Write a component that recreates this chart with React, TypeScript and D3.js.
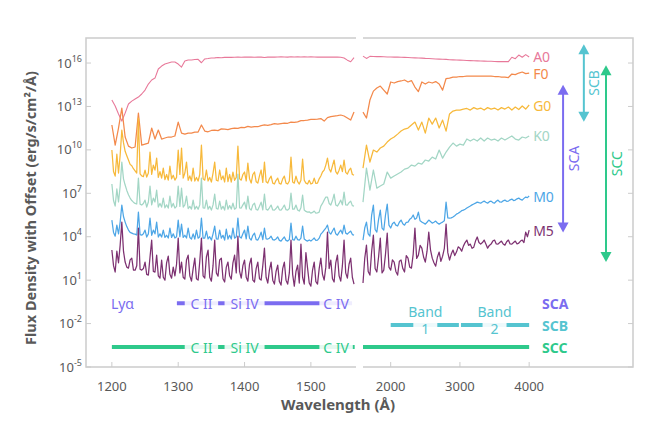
import React from 'react';
import * as d3 from 'd3';

// sampling grids (Å)
const leftWavesCoarse = [1200, 1205, 1210, 1215, 1220, 1225, 1230, 1235, 1240, 1245, 1250, 1255, 1260, 1265, 1270, 1275, 1280, 1285, 1290, 1295, 1300, 1305, 1310, 1315, 1320, 1325, 1330, 1335, 1340, 1345, 1350, 1355, 1360, 1365, 1370, 1375, 1380, 1385, 1390, 1395, 1400, 1405, 1410, 1415, 1420, 1425, 1430, 1435, 1440, 1445, 1450, 1455, 1460, 1465, 1470, 1475, 1480, 1485, 1490, 1495, 1500, 1505, 1510, 1515, 1520, 1525, 1530, 1535, 1540, 1545, 1550, 1555, 1560, 1565];
const leftWavesFine = [
  1200, 1202.5, 1205, 1207.5, 1210, 1212.5, 1215, 1217.5, 1220, 1222.5,
  1225, 1227.5, 1230, 1232.5, 1235, 1237.5, 1240, 1242.5, 1245, 1247.5,
  1250, 1252.5, 1255, 1257.5, 1260, 1262.5, 1265, 1267.5, 1270, 1272.5,
  1275, 1277.5, 1280, 1282.5, 1285, 1287.5, 1290, 1292.5, 1295, 1297.5,
  1300, 1302.5, 1305, 1307.5, 1310, 1312.5, 1315, 1317.5, 1320, 1322.5,
  1325, 1327.5, 1330, 1332.5, 1335, 1337.5, 1340, 1342.5, 1345, 1347.5,
  1350, 1352.5, 1355, 1357.5, 1360, 1362.5, 1365, 1367.5, 1370, 1372.5,
  1375, 1377.5, 1380, 1382.5, 1385, 1387.5, 1390, 1392.5, 1395, 1397.5,
  1400, 1402.5, 1405, 1407.5, 1410, 1412.5, 1415, 1417.5, 1420, 1422.5,
  1425, 1427.5, 1430, 1432.5, 1435, 1437.5, 1440, 1442.5, 1445, 1447.5,
  1450, 1452.5, 1455, 1457.5, 1460, 1462.5, 1465, 1467.5, 1470, 1472.5,
  1475, 1477.5, 1480, 1482.5, 1485, 1487.5, 1490, 1492.5, 1495, 1497.5,
  1500, 1502.5, 1505, 1507.5, 1510, 1512.5, 1515, 1517.5, 1520, 1522.5,
  1525, 1527.5, 1530, 1532.5, 1535, 1537.5, 1540, 1542.5, 1545, 1547.5,
  1550, 1552.5, 1555, 1557.5, 1560, 1562.5, 1565];
const rightWavesCoarse = [1600, 1650, 1700, 1750, 1800, 1850, 1900, 1950, 2000, 2050, 2100, 2150, 2200, 2250, 2300, 2350, 2400, 2450, 2500, 2550, 2600, 2650, 2700, 2750, 2800, 2850, 2900, 2950, 3000, 3050, 3100, 3150, 3200, 3250, 3300, 3350, 3400, 3450, 3500, 3550, 3600, 3650, 3700, 3750, 3800, 3850, 3900, 3950, 4000];
const rightWavesFine = [
  1600, 1625, 1650, 1675, 1700, 1725, 1750, 1775, 1800, 1825,
  1850, 1875, 1900, 1925, 1950, 1975, 2000, 2025, 2050, 2075,
  2100, 2125, 2150, 2175, 2200, 2225, 2250, 2275, 2300, 2325,
  2350, 2375, 2400, 2425, 2450, 2475, 2500, 2525, 2550, 2575,
  2600, 2625, 2650, 2675, 2700, 2725, 2750, 2775, 2800, 2825,
  2850, 2875, 2900, 2925, 2950, 2975, 3000, 3025, 3050, 3075,
  3100, 3125, 3150, 3175, 3200, 3225, 3250, 3275, 3300, 3325,
  3350, 3375, 3400, 3425, 3450, 3475, 3500, 3525, 3550, 3575,
  3600, 3625, 3650, 3675, 3700, 3725, 3750, 3775, 3800, 3825,
  3850, 3875, 3900, 3925, 3950, 3975, 4000];

// log10 flux (with offset)
const a0Left = [13.44, 13.03, 12.48, 11.99, 12.54, 13.17, 13.37, 13.51, 13.65, 13.86, 14.13, 14.55, 14.83, 14.96, 15.59, 15.79, 15.93, 16.0, 16.07, 16.07, 15.93, 15.72, 16.14, 16.21, 16.21, 16.24, 16.26, 16.02, 16.28, 16.31, 16.35, 16.36, 16.38, 16.37, 16.39, 16.4, 16.39, 16.4, 16.41, 16.4, 16.41, 16.42, 16.41, 16.4, 16.42, 16.41, 16.38, 16.41, 16.42, 16.41, 16.42, 16.43, 16.42, 16.41, 16.43, 16.42, 16.43, 16.42, 16.43, 16.42, 16.43, 16.42, 16.41, 16.42, 16.41, 16.42, 16.41, 16.42, 16.41, 16.4, 16.35, 16.2, 16.09, 16.38];
const a0Right = [16.48, 16.32, 16.46, 16.45, 16.44, 16.44, 16.43, 16.42, 16.42, 16.41, 16.41, 16.4, 16.39, 16.38, 16.37, 16.36, 16.35, 16.34, 16.32, 16.31, 16.3, 16.28, 16.27, 16.26, 16.25, 16.23, 16.22, 16.21, 16.2, 16.19, 16.18, 16.17, 16.16, 16.15, 16.14, 16.13, 16.12, 16.12, 16.11, 16.1, 16.1, 16.1, 16.1, 16.4, 16.3, 16.55, 16.4, 16.58, 16.42];

const f0Left = [11.72, 10.33, 11.51, 12.89, 10.89, 10.26, 10.13, 10.2, 12.54, 10.33, 10.4, 10.47, 11.51, 10.75, 11.37, 10.75, 10.82, 10.89, 10.89, 10.96, 11.92, 11.16, 11.09, 11.16, 11.16, 11.23, 11.23, 11.72, 11.3, 11.25, 11.34, 11.37, 11.33, 11.45, 11.44, 11.4, 11.47, 11.51, 11.48, 11.55, 11.54, 11.62, 11.58, 11.61, 11.6, 11.68, 11.72, 11.7, 11.75, 11.82, 11.78, 11.82, 11.85, 11.84, 11.92, 11.9, 11.94, 12.02, 12.03, 12.06, 12.1, 12.11, 12.13, 12.16, 11.99, 12.23, 12.3, 12.34, 12.37, 12.41, 12.34, 12.2, 12.06, 12.61];
const f0Right = [12.61, 12.2, 13.44, 14.06, 14.27, 14.41, 14.13, 13.86, 14.69, 14.62, 14.72, 14.76, 14.83, 14.69, 14.79, 14.34, 14.03, 14.69, 14.55, 14.69, 14.62, 14.72, 14.55, 14.13, 14.93, 14.96, 15.03, 15.03, 15.07, 15.07, 15.1, 15.1, 15.1, 15.1, 15.1, 15.1, 15.1, 15.1, 15.07, 15.07, 15.03, 15.03, 15.0, 15.24, 15.2, 15.31, 15.38, 15.27, 15.31];

const g0Left = [
  9.99, 8.5, 8.19, 9.7, 8.4, 9.64, 11.37, 10.5, 9.9, 9.6,
  9.3, 9.0, 8.9, 8.7, 8.55, 8.4, 12.2, 8.35, 8.2, 8.15,
  8.6, 8.12, 8.4, 9.85, 8.3, 8.95, 8.6, 9.43, 8.1, 8.5,
  8.05, 8.74, 7.95, 8.3, 7.91, 8.88, 8.0, 8.25, 7.91, 8.1,
  9.99, 8.3, 10.13, 8.05, 8.4, 9.16, 7.9, 8.2, 7.85, 8.74,
  7.85, 8.1, 7.85, 8.3, 10.33, 8.0, 7.91, 8.61, 7.85, 8.1,
  7.78, 8.4, 9.16, 7.9, 7.85, 8.61, 7.95, 8.2, 7.78, 8.74,
  7.8, 8.3, 7.78, 8.47, 7.9, 8.1, 10.26, 8.0, 7.91, 8.3,
  8.47, 7.85, 9.09, 8.0, 7.71, 8.3, 8.47, 7.8, 7.71, 8.2,
  8.61, 7.75, 9.16, 7.8, 7.71, 8.0, 8.19, 7.7, 7.64, 7.9,
  8.05, 7.68, 7.64, 8.0, 8.19, 7.7, 7.64, 7.85, 9.5, 7.78,
  7.7, 8.19, 7.8, 7.64, 7.9, 9.37, 7.9, 7.7, 7.64, 7.9,
  7.64, 7.7, 8.05, 7.68, 7.71, 8.0, 8.2, 8.47, 8.6, 8.95,
  9.43, 8.7, 8.47, 8.9, 9.3, 8.5, 8.33, 8.6, 8.95, 8.5,
  9.3, 8.45, 8.33, 8.6, 8.74, 8.3, 8.26];
const g0Right = [8.74, 10.33, 9.16, 9.99, 9.85, 10.13, 10.26, 10.54, 10.75, 10.89, 11.09, 11.3, 11.44, 11.51, 11.72, 11.92, 11.37, 11.92, 11.16, 12.2, 11.78, 12.2, 11.51, 12.06, 11.3, 12.48, 12.68, 12.75, 12.75, 12.82, 12.86, 12.75, 12.92, 12.82, 12.89, 12.75, 12.92, 12.82, 12.89, 12.75, 12.92, 12.82, 12.96, 12.75, 12.96, 12.79, 13.03, 12.82, 13.1];

const k0Left = [
  7.64, 6.5, 6.12, 7.3, 6.4, 7.5, 9.16, 8.0, 7.57, 7.2,
  6.9, 6.67, 6.5, 6.39, 6.3, 6.26, 8.05, 6.25, 6.19, 6.3,
  6.53, 6.05, 6.4, 7.5, 6.2, 6.67, 6.4, 7.22, 6.05, 6.3,
  6.05, 6.67, 6.0, 6.2, 5.98, 6.81, 6.05, 6.3, 5.98, 6.1,
  7.5, 6.1, 7.36, 6.05, 6.2, 6.81, 5.95, 6.1, 5.91, 6.53,
  5.91, 6.1, 5.9, 6.2, 8.05, 6.0, 5.98, 6.53, 5.9, 6.1,
  5.84, 6.2, 6.95, 5.95, 5.91, 6.46, 5.9, 6.1, 5.84, 6.53,
  5.9, 6.15, 5.91, 6.32, 5.9, 6.0, 8.33, 6.0, 5.98, 6.2,
  6.39, 5.9, 6.81, 5.95, 5.84, 6.2, 6.32, 5.88, 5.84, 6.1,
  6.39, 5.86, 6.95, 5.9, 5.84, 6.0, 6.19, 5.85, 5.84, 5.95,
  6.12, 5.86, 5.84, 6.0, 6.19, 5.87, 5.84, 5.95, 7.02, 5.9,
  5.91, 6.19, 5.85, 5.77, 6.0, 6.88, 5.84, 5.75, 5.7, 5.72,
  5.63, 5.68, 5.77, 5.63, 5.65, 5.7, 6.12, 6.3, 6.53, 6.74,
  6.74, 6.3, 6.19, 6.5, 6.95, 6.2, 6.12, 6.3, 6.53, 6.2,
  7.08, 6.2, 6.19, 6.35, 6.46, 6.15, 6.12];
const k0Right = [6.39, 8.74, 7.22, 8.61, 7.36, 7.5, 7.64, 8.47, 8.05, 8.19, 8.33, 8.47, 8.67, 8.74, 8.95, 8.88, 9.09, 9.02, 9.3, 9.23, 9.5, 9.37, 9.99, 9.43, 9.85, 10.19, 10.47, 10.26, 10.4, 10.33, 10.75, 10.61, 10.75, 10.61, 10.82, 10.61, 10.82, 10.68, 10.75, 10.61, 10.82, 10.68, 10.82, 10.96, 10.75, 10.68, 10.89, 10.82, 10.96];

const m0Left = [
  5.15, 4.3, 4.04, 4.8, 4.2, 5.01, 6.19, 5.4, 5.01, 4.7,
  4.46, 4.3, 4.25, 4.2, 4.18, 4.12, 5.7, 4.15, 4.11, 4.2,
  4.46, 3.98, 4.2, 5.29, 4.1, 4.46, 4.2, 5.01, 3.98, 4.2,
  3.98, 4.46, 3.95, 4.1, 3.91, 4.6, 3.95, 4.2, 3.91, 4.0,
  5.15, 4.0, 4.87, 3.95, 4.1, 3.91, 4.6, 3.95, 3.84, 4.2,
  3.84, 4.46, 3.9, 4.0, 5.29, 3.9, 3.91, 4.39, 3.85, 4.0,
  3.77, 4.2, 4.74, 3.85, 3.84, 4.46, 3.9, 4.1, 3.77, 4.53,
  3.84, 4.1, 3.84, 4.6, 3.9, 4.0, 5.29, 4.0, 3.91, 4.2,
  4.46, 3.85, 4.74, 3.9, 3.77, 4.1, 4.25, 3.8, 3.77, 4.0,
  4.32, 3.8, 4.6, 3.85, 3.84, 3.9, 4.04, 3.8, 3.77, 3.85,
  3.98, 3.75, 3.7, 3.85, 3.98, 3.75, 3.7, 3.8, 4.94, 3.8,
  3.77, 4.04, 3.8, 3.77, 3.9, 4.74, 3.84, 3.75, 3.7, 3.78,
  3.7, 3.8, 3.91, 3.75, 3.77, 3.9, 4.18, 4.3, 4.46, 4.6,
  4.8, 4.3, 4.18, 4.4, 4.6, 4.2, 4.11, 4.3, 4.46, 4.2,
  4.8, 4.25, 4.18, 4.3, 4.39, 4.15, 4.11];
const m0Right = [
  3.77, 4.6, 5.01, 4.2, 4.04, 5.5, 6.19, 4.5, 4.32, 5.2,
  5.84, 4.6, 4.46, 5.5, 6.26, 4.8, 4.6, 4.9, 5.01, 4.8,
  4.74, 5.0, 5.15, 4.9, 4.8, 5.0, 5.01, 5.2, 5.29, 5.5,
  5.2, 5.3, 5.7, 5.1, 5.01, 4.95, 4.87, 5.0, 5.15, 5.05,
  4.94, 5.0, 5.08, 4.95, 4.87, 4.95, 5.01, 5.1, 6.39, 5.3,
  5.29, 5.3, 5.36, 5.45, 5.56, 5.62, 5.7, 5.8, 5.84, 5.9,
  5.98, 6.05, 6.12, 6.2, 6.26, 6.32, 6.39, 6.35, 6.32, 6.4,
  6.46, 6.38, 6.32, 6.42, 6.46, 6.36, 6.32, 6.45, 6.53, 6.4,
  6.39, 6.48, 6.53, 6.45, 6.46, 6.55, 6.6, 6.5, 6.53, 6.62,
  6.67, 6.58, 6.53, 6.65, 6.74, 6.7, 6.81];

const m5Left = [
  3.08, 2.0, 1.56, 3.0, 2.2, 3.42, 5.01, 3.0, 2.25, 1.9,
  1.83, 2.4, 2.52, 1.7, 1.69, 2.0, 4.6, 1.75, 1.69, 1.8,
  2.25, 1.4, 1.35, 2.6, 3.77, 1.6, 1.56, 2.73, 1.3, 1.14,
  2.39, 1.2, 1.0, 2.2, 2.66, 1.4, 1.14, 1.9, 1.3, 2.1,
  3.91, 1.5, 2.25, 1.2, 1.07, 2.4, 2.73, 1.3, 0.93, 1.8,
  2.52, 1.1, 1.0, 2.3, 3.91, 1.3, 1.14, 2.6, 3.08, 1.2,
  0.93, 2.0, 3.77, 1.5, 1.28, 2.4, 2.52, 1.1, 0.87, 1.9,
  2.25, 1.3, 1.07, 2.2, 2.73, 1.5, 4.04, 1.6, 1.14, 2.0,
  2.39, 1.2, 0.93, 2.1, 2.52, 1.0, 0.87, 1.8, 2.25, 1.1,
  1.0, 2.0, 3.21, 1.2, 0.8, 1.7, 2.25, 1.0, 0.73, 1.6,
  2.04, 0.9, 0.66, 1.8, 2.25, 1.0, 0.73, 1.5, 3.77, 1.4,
  0.59, 1.6, 2.04, 0.8, 3.49, 1.2, 0.73, 2.9, 1.83, 0.8,
  0.59, 1.7, 2.25, 0.9, 0.73, 1.8, 2.52, 1.4, 1.0, 1.9,
  4.32, 1.8, 2.39, 1.1, 0.87, 2.2, 2.73, 1.3, 0.93, 2.0,
  3.77, 1.5, 1.14, 2.1, 2.52, 1.2, 0.73];
const m5Right = [
  0.8, 2.5, 3.42, 1.6, 1.35, 3.0, 4.11, 1.8, 1.56, 2.6,
  3.91, 1.5, 1.69, 2.8, 4.25, 1.9, 1.69, 2.4, 2.25, 1.6,
  1.35, 2.3, 2.39, 1.8, 1.56, 2.7, 2.52, 1.9, 1.83, 2.8,
  4.6, 2.5, 2.73, 3.4, 3.21, 2.6, 2.25, 3.0, 4.32, 3.1,
  2.52, 2.2, 1.97, 2.6, 2.94, 2.3, 2.66, 3.2, 4.87, 2.9,
  2.39, 2.8, 3.08, 2.7, 2.94, 3.3, 3.21, 3.0, 3.35, 3.6,
  3.77, 3.4, 3.49, 3.2, 3.28, 3.7, 3.98, 3.6, 3.49, 3.6,
  3.77, 3.5, 3.21, 3.4, 3.49, 3.7, 3.77, 3.5, 3.49, 3.6,
  3.7, 3.5, 3.42, 3.65, 3.77, 3.5, 3.49, 3.6, 3.7, 3.5,
  3.56, 3.7, 3.77, 3.6, 4.32, 4.0, 4.46];

const stars = ['A0', 'F0', 'G0', 'K0', 'M0', 'M5'];
const starColors = ['#e8799a', '#f3894b', '#f7b93b', '#a3d6c5', '#4da6e6', '#7d3171'];
const leftSeries = [a0Left, f0Left, g0Left, k0Left, m0Left, m5Left];
const leftSeriesWaves = [leftWavesCoarse, leftWavesCoarse, leftWavesFine, leftWavesFine, leftWavesFine, leftWavesFine];
const rightSeries = [a0Right, f0Right, g0Right, k0Right, m0Right, m5Right];
const rightSeriesWaves = [rightWavesCoarse, rightWavesCoarse, rightWavesCoarse, rightWavesCoarse, rightWavesFine, rightWavesFine];

// spectral coverage of the three instruments
const channels = ['SCA', 'SCB', 'SCC'];
const channelColors = ['#7b6cf0', '#55c4d0', '#2ec98b'];
const channelArrowWave = [4490, 4790, 5110];
const channelArrowLo = [4.3, 11.95, 2.25];
const channelArrowHi = [14.5, 17.3, 15.85];
const channelRowLog = [-0.6, -2.1, -3.62];

const uvLines = ['C II', 'Si IV', 'C IV'];
const uvLineWaves = [1335, 1400, 1538];
const bandNames = ['1', '2'];
const bandCenters = [2500, 3500];
const bandEdges = [[2000, 2985], [3015, 4000]];

const yTicks = [-5, -2, 1, 4, 7, 10, 13, 16];
const xTicksLeft = [1200, 1300, 1400, 1500];
const xTicksRight = [2000, 3000, 4000];

const FONT = "'Noto Sans', 'Open Sans', sans-serif";
const GRAY = '#595959';
const FRAME = '#cccccc';

const LineLabel: React.FC<{ x: number; y: number; text: string; color: string }> = ({ x, y, text, color }) => {
  const w = text.length * 6.6 + 7;
  return (
    <g>
      <rect x={x - w / 2} y={y - 8} width={w} height={16} fill="#fff" opacity={0.88} />
      <text x={x} y={y} textAnchor="middle" dominantBaseline="central" fill={color} fontSize={14} fontFamily={FONT}>
        {text}
      </text>
    </g>
  );
};

const Arrow: React.FC<{ x: number; y1: number; y2: number; color: string }> = ({ x, y1, y2, color }) => (
  <g fill={color} stroke={color}>
    <line x1={x} x2={x} y1={y1 + 8} y2={y2 - 8} strokeWidth={2} />
    <path d={`M${x},${y1} L${x - 5.5},${y1 + 10} L${x + 5.5},${y1 + 10} Z`} stroke="none" />
    <path d={`M${x},${y2} L${x - 5.5},${y2 - 10} L${x + 5.5},${y2 - 10} Z`} stroke="none" />
  </g>
);

export default function App() {
  const left = 86, mid1 = 356, mid2 = 363, right = 633, top = 38, bottom = 367;
  const xL = d3.scaleLinear().domain([1161, 1568]).range([left, mid1]);
  const xR = d3.scaleLinear().domain([1600, 5500]).range([mid2, right]);
  const y = d3.scaleLog().domain([1e-5, Math.pow(10, 17.73)]).range([bottom, top]);
  const yv = (v: number) => y(Math.pow(10, v));

  const rowY = channelRowLog.map(yv);

  return (
    <svg width={650} height={422} style={{ position: 'absolute', left: 0, top: 0 }} fontFamily={FONT}>
      <rect width={650} height={422} fill="#fff" />

      {/* frame */}
      <g stroke={FRAME} strokeWidth={1.5} fill="none">
        <path d={`M${mid1},${top} H${left} V${bottom} H${mid1}`} />
        <path d={`M${mid2},${top} H${right} V${bottom} H${mid2}`} />
      </g>

      {/* y ticks */}
      {yTicks.map(t => (
        <g key={t}>
          <line x1={left} x2={left + 5} y1={yv(t)} y2={yv(t)} stroke={FRAME} />
          <line x1={right - 5} x2={right} y1={yv(t)} y2={yv(t)} stroke={FRAME} />
          <text x={82} y={yv(t) + 4.5} textAnchor="end" fontSize={13} fill={GRAY}>
            10<tspan dy={-6} fontSize={9}>{t}</tspan>
          </text>
        </g>
      ))}

      {/* x ticks */}
      {xTicksLeft.map(t => (
        <g key={t}>
          <line x1={xL(t)} x2={xL(t)} y1={bottom} y2={bottom - 5} stroke={FRAME} />
          <text x={xL(t)} y={bottom + 24} textAnchor="middle" fontSize={13} fill={GRAY}>{t}</text>
        </g>
      ))}
      {xTicksRight.map(t => (
        <g key={t}>
          <line x1={xR(t)} x2={xR(t)} y1={bottom} y2={bottom - 5} stroke={FRAME} />
          <text x={xR(t)} y={bottom + 24} textAnchor="middle" fontSize={13} fill={GRAY}>{t}</text>
        </g>
      ))}

      <text x={338} y={410} textAnchor="middle" fontSize={15} fontWeight={700} fill={GRAY}>Wavelength (Å)</text>
      <text transform="translate(30,208) rotate(-90)" textAnchor="middle" dominantBaseline="central" fontSize={14.5} fontWeight={700} fill={GRAY}>
        Flux Density with Offset (erg/s/cm²/Å)
      </text>

      {/* spectra */}
      {stars.map((s, k) => {
        const wl = leftSeriesWaves[k];
        const wr = rightSeriesWaves[k];
        const lineL = d3.line<number>().x((_, i) => xL(wl[i])).y(v => yv(v));
        const lineR = d3.line<number>().x((_, i) => xR(wr[i])).y(v => yv(v));
        const last = rightSeries[k][rightSeries[k].length - 1];
        return (
          <g key={s} fill="none" stroke={starColors[k]} strokeWidth={k === 0 ? 1.1 : 1.25} strokeLinejoin="round">
            <path d={lineL(leftSeries[k]) || ''} />
            <path d={lineR(rightSeries[k]) || ''} />
            <text x={xR(4000) + 4} y={yv(last)} dominantBaseline="central" fontSize={14} fill={starColors[k]} stroke="none">
              {s}
            </text>
          </g>
        );
      })}

      {/* vertical coverage arrows */}
      {channels.map((c, k) => {
        const x = xR(channelArrowWave[k]);
        const y1 = yv(channelArrowHi[k]);
        const y2 = yv(channelArrowLo[k]);
        return (
          <g key={c}>
            <Arrow x={x} y1={y1} y2={y2} color={channelColors[k]} />
            <text transform={`translate(${x + 10},${(y1 + y2) / 2}) rotate(-90)`} textAnchor="middle" dominantBaseline="central" fontSize={14} fill={channelColors[k]}>
              {c}
            </text>
          </g>
        );
      })}

      {/* SCA row */}
      <text x={xL(1216)} y={rowY[0]} textAnchor="middle" dominantBaseline="central" fontSize={14} fill={channelColors[0]}>Lyα</text>
      <line x1={xL(1298)} x2={xL(1562)} y1={rowY[0]} y2={rowY[0]} stroke={channelColors[0]} strokeWidth={4} />
      {uvLines.map((l, i) => <LineLabel key={'a' + l} x={xL(uvLineWaves[i])} y={rowY[0]} text={l} color={channelColors[0]} />)}

      {/* SCB row */}
      {bandEdges.map((e, i) => (
        <line key={'b' + i} x1={xR(e[0])} x2={xR(e[1])} y1={rowY[1]} y2={rowY[1]} stroke={channelColors[1]} strokeWidth={4} />
      ))}
      {bandNames.map((b, i) => (
        <g key={'bl' + b}>
          <rect x={xR(bandCenters[i]) - 12} y={rowY[1] - 4} width={24} height={8} fill="#fff" opacity={0.9} />
          <text x={xR(bandCenters[i])} y={rowY[1] - 13.5} textAnchor="middle" dominantBaseline="central" fontSize={14} fill={channelColors[1]}>Band</text>
          <text x={xR(bandCenters[i])} y={rowY[1] + 3} textAnchor="middle" dominantBaseline="central" fontSize={14} fill={channelColors[1]}>{b}</text>
        </g>
      ))}

      {/* SCC row */}
      <line x1={xL(1200)} x2={xL(1566)} y1={rowY[2]} y2={rowY[2]} stroke={channelColors[2]} strokeWidth={4} />
      <line x1={xR(1600)} x2={xR(4000)} y1={rowY[2]} y2={rowY[2]} stroke={channelColors[2]} strokeWidth={4} />
      {uvLines.map((l, i) => <LineLabel key={'c' + l} x={xL(uvLineWaves[i])} y={rowY[2]} text={l} color={channelColors[2]} />)}

      {channels.map((c, k) => (
        <text key={'r' + c} x={542} y={rowY[k]} dominantBaseline="central" fontSize={14} fontWeight={700} fill={channelColors[k]}>{c}</text>
      ))}
    </svg>
  );
}
